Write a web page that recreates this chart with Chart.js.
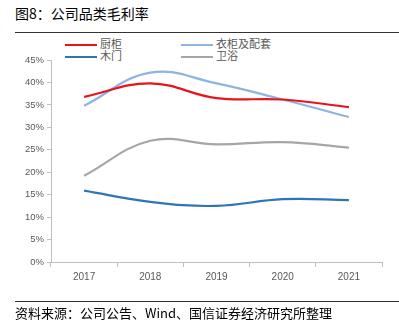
<!DOCTYPE html>
<html>
<head>
<meta charset="utf-8">
<script src="https://cdn.jsdelivr.net/npm/chart.js@4"></script>
<style>
  body { margin: 0; width: 399px; height: 328px; background: #fff; position: relative; overflow: hidden;
         font-family: "Noto Sans CJK SC", "Noto Sans", sans-serif; }
  #title { position: absolute; left: 15px; top: 3px; font-size: 14px; color: #000; }
  .rule { position: absolute; left: 15px; right: 0; height: 1px; background: #333; }
  #source { position: absolute; left: 15px; top: 303px; font-size: 13px; color: #000; }
  #legend { position: absolute; left: 65px; top: 38px; font-size: 11px; color: #595959; }
  .item { position: absolute; white-space: nowrap; line-height: 11px; }
  .item span.swatch { display: inline-block; width: 32px; height: 2.5px; vertical-align: middle; margin-right: 3px; }
  #wrap { position: absolute; left: 0; top: 0; width: 399px; height: 328px; }
</style>
</head>
<body>
<div id="title">图8：公司品类毛利率</div>
<div class="rule" style="top:32px"></div>
<div id="legend"></div>
<div id="wrap"><canvas id="myChart"></canvas></div>
<div class="rule" style="top:301px"></div>
<div id="source">资料来源：公司公告、Wind、国信证券经济研究所整理</div>
<script>
// 年份
var years = ["2017", "2018", "2019", "2020", "2021"];

// 各品类毛利率 (%)
var chugui = [36.8, 39.8, 36.5, 36.2, 34.5];
var yigui = [34.8, 42.2, 39.8, 36.2, 32.3];
var mumen = [15.9, 13.4, 12.5, 14.0, 13.8];
var weiyu = [19.2, 27.0, 26.2, 26.7, 25.5];

var names = ["厨柜", "衣柜及配套", "木门", "卫浴"];
var colors = ["#e8141c", "#8db4e2", "#2e75b6", "#a6a6a6"];
var series = [chugui, yigui, mumen, weiyu];

// 图例：两列两行
var legend = document.getElementById("legend");
for (var i = 0; i < names.length; i++) {
  var div = document.createElement("div");
  div.className = "item";
  div.style.left = (i % 2) * 116 + "px";
  div.style.top = Math.floor(i / 2) * 12 + "px";
  div.innerHTML = '<span class="swatch" style="background:' + colors[i] + '"></span>' + names[i];
  legend.appendChild(div);
}

var datasets = [];
for (var i = 0; i < names.length; i++) {
  datasets.push({
    label: names[i],
    data: series[i],
    borderColor: colors[i],
    backgroundColor: colors[i],
    borderWidth: 2.2,
    pointRadius: 0,
    tension: 0.4,
    fill: false,
  });
}

Chart.defaults.font.family = "'Liberation Sans', Arial, sans-serif";
Chart.defaults.color = "#595959";

var ctx = document.getElementById("myChart");
var myChart = new Chart(ctx, {
  type: "line",
  data: { labels: years, datasets: datasets },
  options: {
    responsive: true,
    maintainAspectRatio: false,
    animation: false,
    layout: { padding: { left: 0, right: 17, top: 60, bottom: 36 } },
    plugins: { legend: { display: false }, tooltip: { enabled: false } },
    scales: {
      x: {
        offset: true,
        grid: { display: true, drawOnChartArea: false, offset: true, tickLength: 5, color: "#bfbfbf" },
        border: { color: "#bfbfbf" },
        ticks: { font: { size: 10 }, padding: 4 },
        afterFit: function (scale) { scale.height = 30; },
      },
      y: {
        min: 0,
        max: 45,
        grid: { display: true, drawOnChartArea: false, tickLength: 4, color: "#bfbfbf" },
        border: { color: "#bfbfbf" },
        ticks: {
          stepSize: 5,
          font: { size: 9.5 },
          padding: 3,
          callback: function (v) { return v + "%"; },
        },
        afterFit: function (scale) { scale.width = 51; },
      },
    },
  },
});
</script>
</body>
</html>
